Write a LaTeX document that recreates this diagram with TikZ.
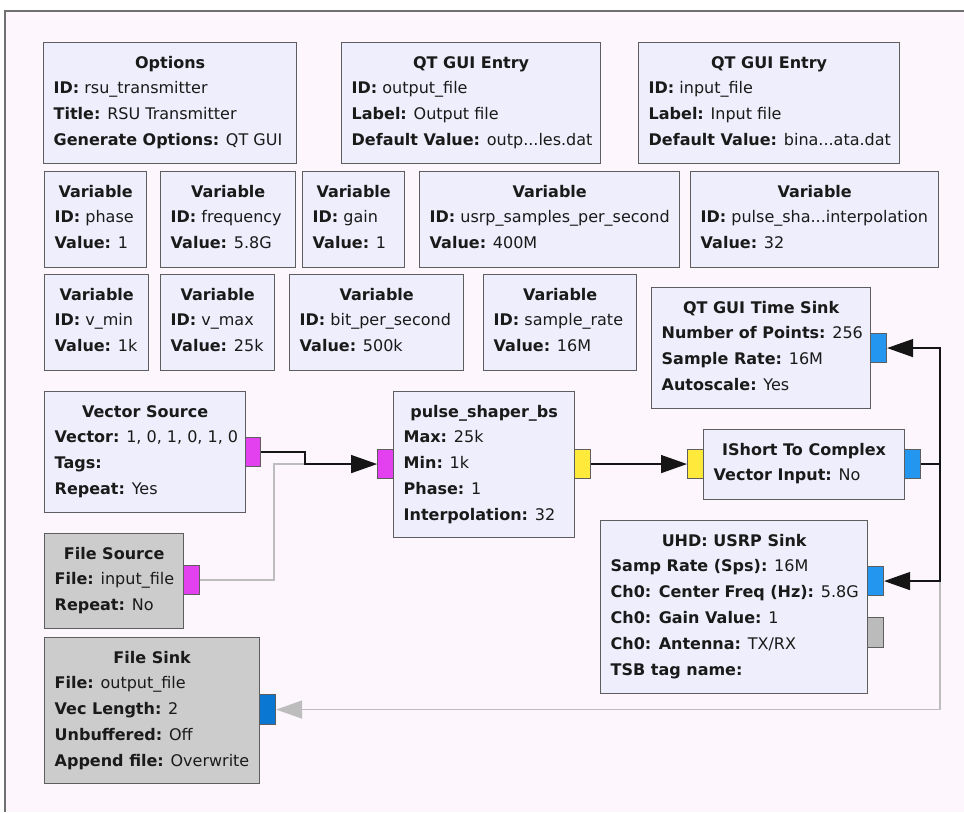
\documentclass[tikz,border=0pt]{standalone}
\usepackage{fontspec}
\setmainfont{DejaVu Sans}
\usetikzlibrary{arrows.meta}

\definecolor{canvasbg}{HTML}{FDF7FD}
\definecolor{framegray}{HTML}{707070}
\definecolor{blockfill}{HTML}{EEEEFC}
\definecolor{offfill}{HTML}{CCCCCC}
\definecolor{edgegray}{HTML}{5E5E5E}
\definecolor{textcol}{HTML}{1A1A1A}
\definecolor{bytecol}{HTML}{E340F0}
\definecolor{shortcol}{HTML}{FFE93A}
\definecolor{cplxcol}{HTML}{2396F0}
\definecolor{cplxdark}{HTML}{0A78D2}
\definecolor{msgcol}{HTML}{BBBBBB}
\definecolor{wiregray}{HTML}{BDBDBD}
\definecolor{wireblack}{HTML}{151515}

\tikzset{
  blk/.style={draw=edgegray, line width=1.3pt, fill=blockfill, inner sep=0pt, anchor=north west},
  offblk/.style={blk, fill=offfill},
  port/.style={draw=edgegray, line width=1.1pt, inner sep=0pt, anchor=north west},
  blktext/.style={inner sep=0pt, text height=12pt, text depth=3.5pt, text=textcol,
    font=\fontsize{16}{19}\selectfont},
  ttl/.style={blktext, anchor=center, font=\fontsize{16}{19}\selectfont\bfseries},
  fld/.style={blktext, anchor=west},
  wire/.style={draw=wireblack, line width=1.4pt,
    -{Triangle[length=26pt, width=18pt]}},
  offwire/.style={draw=wiregray, line width=1.4pt,
    -{Triangle[length=26pt, width=18pt]}}
}

% block: name, style, x0, y0, x1, y1
\newcommand\grcbox[6]{%
  \node[#2, minimum width={#5-#3}, minimum height={#6-#4}] (#1) at (#3,#4) {};}
% block title: block name, text
\newcommand\grctitle[2]{%
  \node[ttl] (#1-title) at ([yshift=-22pt]#1.north) {#2};}
% parameter line: block name, row, key, value
\newcommand\grcfield[4]{%
  \node[fld] (#1-f#2) at ([xshift=10.5pt, yshift={-(21.5+26*#2)}]#1.north west)
    {\textbf{#3:} #4};}
% port: name, colour, x0, y0, x1, y1
\newcommand\grcport[6]{%
  \node[port, fill=#2, minimum width={#5-#3}, minimum height={#6-#4}] (#1) at (#3,#4) {};}

\begin{document}
\begin{tikzpicture}[x=1pt, y=-1pt]
\useasboundingbox (0,0) rectangle (964,812);
\fill[white] (0,0) rectangle (964,812);
\fill[canvasbg] (5,11) rectangle (964,812);
\draw[framegray, line width=1.2pt] (5,812) -- (5,11) -- (964,11);

% ---------- variables and options ----------
\grcbox{opt}{blk}{43}{42}{296}{163}
\grctitle{opt}{Options}
\grcfield{opt}{1}{ID}{rsu\_transmitter}
\grcfield{opt}{2}{Title}{RSU Transmitter}
\grcfield{opt}{3}{Generate Options}{QT GUI}

\grcbox{qout}{blk}{341}{42}{600}{163}
\grctitle{qout}{QT GUI Entry}
\grcfield{qout}{1}{ID}{output\_file}
\grcfield{qout}{2}{Label}{Output file}
\grcfield{qout}{3}{Default Value}{outp...les.dat}

\grcbox{qin}{blk}{638}{42}{899}{163}
\grctitle{qin}{QT GUI Entry}
\grcfield{qin}{1}{ID}{input\_file}
\grcfield{qin}{2}{Label}{Input file}
\grcfield{qin}{3}{Default Value}{bina...ata.dat}

\grcbox{vphase}{blk}{44}{171}{146}{267}
\grctitle{vphase}{Variable}
\grcfield{vphase}{1}{ID}{phase}
\grcfield{vphase}{2}{Value}{1}

\grcbox{vfreq}{blk}{160}{171}{295}{267}
\grctitle{vfreq}{Variable}
\grcfield{vfreq}{1}{ID}{frequency}
\grcfield{vfreq}{2}{Value}{5.8G}

\grcbox{vgain}{blk}{302}{171}{404}{267}
\grctitle{vgain}{Variable}
\grcfield{vgain}{1}{ID}{gain}
\grcfield{vgain}{2}{Value}{1}

\grcbox{vusrp}{blk}{419}{171}{679}{267}
\grctitle{vusrp}{Variable}
\grcfield{vusrp}{1}{ID}{usrp\_samples\_per\_second}
\grcfield{vusrp}{2}{Value}{400M}

\grcbox{vinterp}{blk}{690}{171}{938}{267}
\grctitle{vinterp}{Variable}
\grcfield{vinterp}{1}{ID}{pulse\_sha...interpolation}
\grcfield{vinterp}{2}{Value}{32}

\grcbox{vmin}{blk}{44}{274}{148}{370}
\grctitle{vmin}{Variable}
\grcfield{vmin}{1}{ID}{v\_min}
\grcfield{vmin}{2}{Value}{1k}

\grcbox{vmax}{blk}{160}{274}{274}{370}
\grctitle{vmax}{Variable}
\grcfield{vmax}{1}{ID}{v\_max}
\grcfield{vmax}{2}{Value}{25k}

\grcbox{vbps}{blk}{289}{274}{463}{370}
\grctitle{vbps}{Variable}
\grcfield{vbps}{1}{ID}{bit\_per\_second}
\grcfield{vbps}{2}{Value}{500k}

\grcbox{vrate}{blk}{483}{274}{636}{370}
\grctitle{vrate}{Variable}
\grcfield{vrate}{1}{ID}{sample\_rate}
\grcfield{vrate}{2}{Value}{16M}

% ---------- signal blocks ----------
\grcbox{tsink}{blk}{651}{287}{870}{408}
\grctitle{tsink}{QT GUI Time Sink}
\grcfield{tsink}{1}{Number of Points}{256}
\grcfield{tsink}{2}{Sample Rate}{16M}
\grcfield{tsink}{3}{Autoscale}{Yes}

\grcbox{vsrc}{blk}{44}{391}{245}{512}
\grctitle{vsrc}{Vector Source}
\grcfield{vsrc}{1}{Vector}{1, 0, 1, 0, 1, 0}
\grcfield{vsrc}{2}{Tags}{}
\grcfield{vsrc}{3}{Repeat}{Yes}

\grcbox{shaper}{blk}{393}{391}{574}{537}
\grctitle{shaper}{pulse\_shaper\_bs}
\grcfield{shaper}{1}{Max}{25k}
\grcfield{shaper}{2}{Min}{1k}
\grcfield{shaper}{3}{Phase}{1}
\grcfield{shaper}{4}{Interpolation}{32}

\grcbox{conv}{blk}{703}{429}{904}{499}
\grctitle{conv}{IShort To Complex}
\grcfield{conv}{1}{Vector Input}{No}

\grcbox{usrp}{blk}{600}{520}{867}{693}
\grctitle{usrp}{UHD: USRP Sink}
\grcfield{usrp}{1}{Samp Rate (Sps)}{16M}
\grcfield{usrp}{2}{Ch0: Center Freq (Hz)}{5.8G}
\grcfield{usrp}{3}{Ch0: Gain Value}{1}
\grcfield{usrp}{4}{Ch0: Antenna}{TX/RX}
\grcfield{usrp}{5}{TSB tag name}{}

\grcbox{fsrc}{offblk}{44}{533}{183}{628}
\grctitle{fsrc}{File Source}
\grcfield{fsrc}{1}{File}{input\_file}
\grcfield{fsrc}{2}{Repeat}{No}

\grcbox{fsink}{offblk}{44}{637}{259}{783}
\grctitle{fsink}{File Sink}
\grcfield{fsink}{1}{File}{output\_file}
\grcfield{fsink}{2}{Vec Length}{2}
\grcfield{fsink}{3}{Unbuffered}{Off}
\grcfield{fsink}{4}{Append file}{Overwrite}

% ---------- ports ----------
\grcport{vsrc-out}{bytecol}{245}{437}{260}{466}
\grcport{shaper-in}{bytecol}{377}{449}{393}{478}
\grcport{shaper-out}{shortcol}{574}{449}{590}{478}
\grcport{conv-in}{shortcol}{687}{449}{703}{478}
\grcport{conv-out}{cplxcol}{904}{449}{920}{478}
\grcport{tsink-in}{cplxcol}{870}{333}{886}{362}
\grcport{usrp-in}{cplxcol}{867}{566}{883}{595}
\grcport{usrp-cmd}{msgcol}{867}{617}{883}{647}
\grcport{fsrc-out}{bytecol}{183}{565}{199}{594}
\grcport{fsink-in}{cplxdark}{259}{694}{275}{724}

% ---------- connections ----------
\draw[offwire] (fsrc-out.east) -- ++(74,0) |- (shaper-in.west);
\draw[offwire] (conv-out.east) -- ++(19,0) |- (fsink-in.east);
\draw[wire] (vsrc-out.east) -- ++(44,0) |- (shaper-in.west);
\draw[wire] (shaper-out.east) -- (conv-in.west);
\draw[wire] (conv-out.east) -- ++(19,0) |- (tsink-in.east);
\draw[wire] (conv-out.east) -- ++(19,0) |- (usrp-in.east);
\end{tikzpicture}
\end{document}
